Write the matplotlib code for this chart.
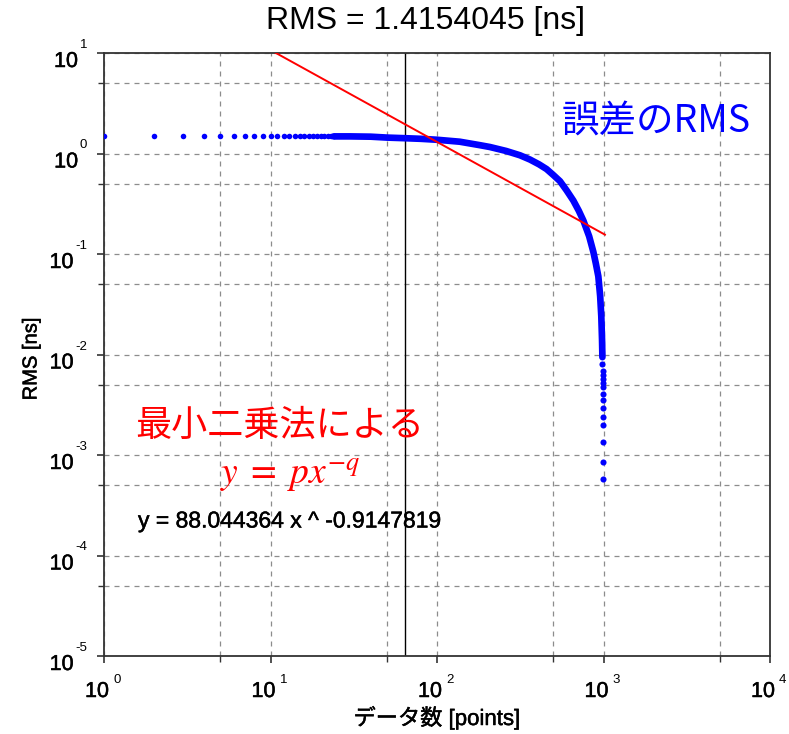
import numpy as np
import matplotlib.pyplot as plt
import matplotlib.patheffects as pe
from matplotlib import transforms
from matplotlib.ticker import LogLocator, NullFormatter

plt.rcParams['font.family'] = ['Liberation Sans', 'Noto Sans CJK JP']
plt.rcParams['mathtext.fontset'] = 'stix'

# least squares fit  y = p * x^-q
p = 88.044364
q = 0.9147819
rms_total = 1.4154045
n_mark = 64

# first data counts, one dot each
n_first = [1, 2, 3, 4, 5, 6, 7, 8, 9, 10, 11, 12, 13, 14, 15,
           16, 17, 18, 19, 20, 21, 22, 23, 24]
rms_first = [1.51, 1.51, 1.51, 1.51, 1.51, 1.51, 1.51, 1.51, 1.51, 1.51,
             1.51, 1.51, 1.51, 1.51, 1.51, 1.51, 1.51, 1.51, 1.51, 1.51,
             1.51, 1.51, 1.51, 1.48]

# dense part of the curve (dots merge into a band)
n_mid = [24, 30, 40, 50, 64, 80, 100, 137, 181, 208, 260, 315, 362, 410, 455,
         500, 548, 600, 659, 710, 757, 820, 869, 900, 931, 955, 970, 980, 985]
rms_mid = [1.48, 1.48, 1.47, 1.44, 1.42, 1.40, 1.37, 1.31, 1.21, 1.16, 1.06,
           0.96, 0.87, 0.78, 0.70, 0.61, 0.53, 0.43, 0.34, 0.27, 0.215, 0.15,
           0.105, 0.08, 0.06, 0.038, 0.024, 0.014, 0.0094]

# last data counts, separate dots again
n_tail = [986, 987, 988, 989, 990, 991, 992, 993, 994, 995, 996, 997, 998, 999]
rms_tail = [0.0080, 0.0069, 0.0063, 0.0057, 0.0052, 0.0047, 0.00407, 0.00355,
            0.00294, 0.00238, 0.00197, 0.00134, 0.00085, 0.00058]

x_fit = np.array([10.0, 1020.0])
y_fit = p * x_fit ** (-q)

W, H = 789, 734
fig = plt.figure(figsize=(W / 100, H / 100), dpi=100)
ax = fig.add_axes([104 / W, 1 - 656 / H, (770 - 104) / W, (656 - 53) / H])

ax.plot(n_mid, rms_mid, '-', color='blue', lw=4.8, solid_capstyle='round', zorder=3)
ax.plot(n_first, rms_first, 'o', color='blue', ms=4.0, mec='none', zorder=3)
ax.plot(n_tail, rms_tail, 'o', color='blue', ms=4.4, mec='none', zorder=3)
ax.plot(x_fit, y_fit, '-', color='red', lw=1.4, zorder=4)
ax.axvline(n_mark, color='black', lw=1.0, zorder=2)

ax.set_xscale('log')
ax.set_yscale('log')
ax.set_xlim(1, 1e4)
ax.set_ylim(1e-5, 1e1)

ax.xaxis.set_major_locator(LogLocator(base=10, numticks=10))
ax.yaxis.set_major_locator(LogLocator(base=10, numticks=10))
ax.xaxis.set_minor_locator(LogLocator(base=10, subs=[5.0], numticks=10))
ax.yaxis.set_minor_locator(LogLocator(base=10, subs=[5.0], numticks=10))
ax.xaxis.set_major_formatter(NullFormatter())
ax.yaxis.set_major_formatter(NullFormatter())
ax.xaxis.set_minor_formatter(NullFormatter())
ax.yaxis.set_minor_formatter(NullFormatter())
ax.tick_params(which='major', direction='out', length=5, width=1.2, color='#333333')
ax.tick_params(which='minor', direction='out', length=4, width=1.0, color='#333333')
ax.grid(which='both', ls=(0, (4, 4)), color='#8c8c8c', lw=0.9)
for s in ax.spines.values():
    s.set_color('#333333')
    s.set_linewidth(1.3)

# slightly heavier than regular text
heavy = [pe.withStroke(linewidth=0.35, foreground='black')]

# tick labels as "10" with a small raised exponent
renderer = fig.canvas.get_renderer()
xt = ax.get_xaxis_transform()
for e in range(0, 5):
    ax.text(10.0 ** e, 0, '10', fontsize=15.5, ha='right', va='baseline', path_effects=heavy,
            transform=transforms.offset_copy(xt, fig=fig, x=5, y=-41, units='dots'))
    ax.text(10.0 ** e, 0, str(e), fontsize=9.5, ha='left', va='baseline',
            transform=transforms.offset_copy(xt, fig=fig, x=9, y=-27, units='dots'))

yt = ax.get_yaxis_transform()
for e in range(-5, 2):
    t = ax.text(0, 10.0 ** e, str(e), fontsize=9.5, ha='right', va='baseline',
                transform=transforms.offset_copy(yt, fig=fig, x=-17, y=5, units='dots'))
    w = t.get_window_extent(renderer).width
    ax.text(0, 10.0 ** e, '10', fontsize=15.5, ha='right', va='baseline', path_effects=heavy,
            transform=transforms.offset_copy(yt, fig=fig, x=-17 - w - 1.5, y=-14, units='dots'))

fig.text(426 / W, 1 - 21 / H, 'RMS = %.7f [ns]' % rms_total, fontsize=23,
         ha='center', va='center')
fig.text(31 / W, 1 - 359 / H, 'RMS [ns]', fontsize=14.5, rotation=90,
         path_effects=heavy, ha='center', va='center')
fig.text(437 / W, 1 - 718 / H, 'データ数 [points]', fontsize=16,
         path_effects=heavy, ha='center', va='center')

fig.text(656 / W, 1 - 122 / H, '誤差のRMS', fontsize=27, color='blue',
         family=['Noto Sans CJK JP'], ha='center', va='center')
fig.text(280 / W, 1 - 426 / H, '最小二乗法による', fontsize=26, color='red',
         family=['Noto Sans CJK JP'], ha='center', va='center')
fig.text(290 / W, 1 - 475 / H, r'$y\;=\;px^{-q}$', fontsize=27, color='red',
         ha='center', va='center')
fig.text(138 / W, 1 - 521 / H, 'y = %.6f x ^ -%.7f' % (p, q), fontsize=16.5,
         path_effects=heavy, ha='left', va='center')

plt.savefig('out.png', dpi=100)
